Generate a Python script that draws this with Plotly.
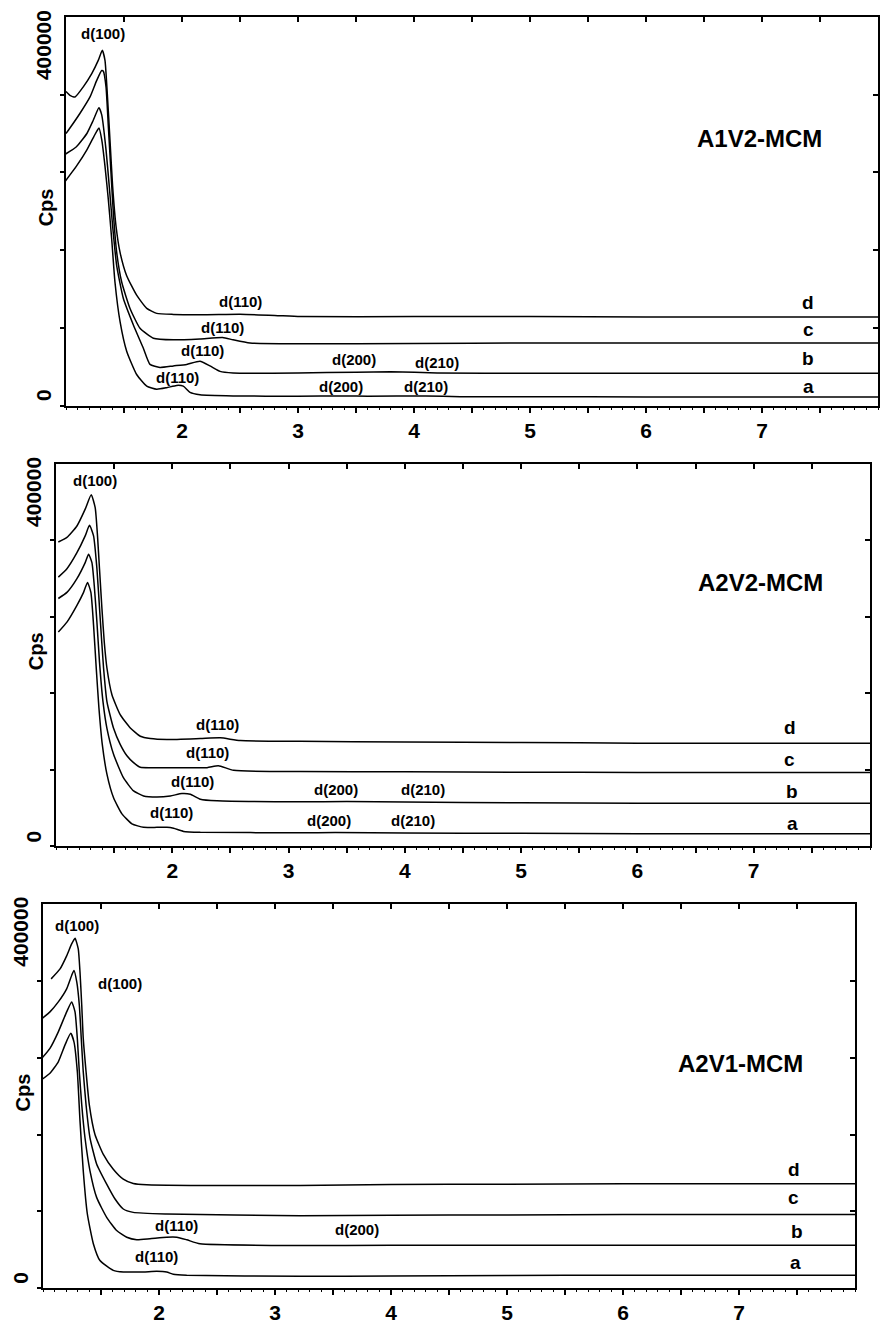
import plotly.graph_objects as go

# ---------------- A1V2-MCM : low-angle XRD traces a-d (2 theta, Cps) ----------------
a1v2_a_x = [0.99, 1.09, 1.18, 1.24, 1.284, 1.308, 1.336, 1.365, 1.394, 1.422, 1.466, 1.523, 1.609, 1.696,
            1.782, 1.868, 1.954, 2.011, 2.069, 2.155, 2.44, 3.0, 3.4, 3.6, 4.1, 4.4, 5.0, 6.0, 7.0, 8.0]
a1v2_a_y = [288000, 308000, 329000, 346000, 357000, 342000, 308000, 265000, 214000, 159000, 108000, 70000,
            40000, 25000, 21000, 23000, 26000, 25000, 17000, 14000, 12500, 12000, 12500, 12000, 12500,
            11500, 11500, 11000, 11000, 11000]
a1v2_b_x = [0.99, 1.09, 1.18, 1.235, 1.284, 1.308, 1.345, 1.373, 1.402, 1.437, 1.494, 1.58, 1.666, 1.724,
            1.81, 1.925, 2.04, 2.155, 2.241, 2.328, 2.44, 3.0, 3.5, 3.8, 4.2, 5.0, 6.0, 7.0, 8.0]
a1v2_b_y = [323000, 333000, 350000, 367000, 383000, 374000, 329000, 282000, 231000, 180000, 138000, 104000,
            74000, 53000, 49000, 51000, 53000, 57000, 51000, 44000, 42000, 42000, 43000, 43500, 42000,
            41500, 41500, 41500, 41500]
a1v2_c_x = [1.0, 1.034, 1.121, 1.207, 1.264, 1.308, 1.322, 1.345, 1.365, 1.388, 1.408, 1.437, 1.48, 1.552,
            1.638, 1.753, 1.925, 2.155, 2.35, 2.44, 2.586, 3.0, 4.0, 5.0, 6.0, 7.0, 8.0]
a1v2_c_y = [350000, 357000, 376000, 397000, 418000, 431000, 430000, 410000, 359000, 299000, 248000, 197000,
            159000, 125000, 99500, 86700, 84600, 85800, 87600, 84600, 80400, 79500, 80000, 80500, 80500,
            80500, 80500]
a1v2_d_x = [1.0, 1.034, 1.078, 1.149, 1.222, 1.278, 1.313, 1.336, 1.356, 1.379, 1.402, 1.431, 1.466, 1.523,
            1.609, 1.696, 1.782, 1.925, 2.2, 2.5, 2.8, 3.02, 4.0, 5.0, 6.0, 7.0, 8.0]
a1v2_d_y = [404000, 399000, 397000, 410000, 427000, 444000, 457000, 444000, 401000, 342000, 282000, 231000,
            197000, 167000, 142000, 125000, 118600, 117300, 117000, 117500, 116000, 114500, 114500,
            114500, 114000, 114000, 114000]

# ---------------- A2V2-MCM ----------------
a2v2_a_x = [1.02, 1.094, 1.18, 1.237, 1.271, 1.3, 1.323, 1.346, 1.369, 1.398, 1.438, 1.495, 1.567, 1.653,
            1.753, 1.868, 1.954, 2.011, 2.097, 2.241, 3.1, 3.4, 4.0, 5.0, 6.0, 7.0, 8.0]
a2v2_a_y = [280000, 293000, 315000, 332000, 345000, 332000, 289000, 233000, 181000, 133000, 94000, 63000,
            42000, 29000, 24300, 24300, 24300, 23000, 19000, 17800, 17300, 17500, 17000, 16500, 16000,
            16000, 16000]
a2v2_b_x = [1.02, 1.094, 1.18, 1.251, 1.28, 1.309, 1.329, 1.352, 1.374, 1.404, 1.438, 1.495, 1.581, 1.667,
            1.753, 1.868, 1.983, 2.083, 2.155, 2.241, 2.385, 3.1, 3.5, 4.0, 5.0, 6.0, 7.0, 8.0]
a2v2_b_y = [324000, 332000, 350000, 371000, 382000, 371000, 341000, 293000, 241000, 189000, 154000, 120000,
            89000, 72000, 65500, 64200, 65500, 68600, 67700, 61200, 59000, 57700, 58000, 57500, 56500,
            56000, 56000, 56000]
a2v2_c_x = [1.02, 1.094, 1.18, 1.251, 1.288, 1.323, 1.352, 1.38, 1.409, 1.438, 1.495, 1.552, 1.61, 1.667,
            1.725, 1.839, 2.069, 2.299, 2.396, 2.528, 3.1, 4.0, 5.0, 6.0, 7.0, 8.0]
a2v2_c_y = [352000, 363000, 384000, 406000, 420000, 406000, 363000, 298000, 233000, 189000, 154000, 133000,
            118000, 109000, 103000, 102500, 102500, 102500, 105000, 99000, 97300, 97000, 96500, 96300,
            96300, 96300]
a2v2_d_x = [1.02, 1.094, 1.18, 1.251, 1.303, 1.337, 1.357, 1.374, 1.395, 1.415, 1.438, 1.481, 1.552, 1.639,
            1.725, 1.811, 1.954, 2.241, 2.413, 2.585, 3.1, 4.0, 5.0, 6.0, 7.0, 8.0]
a2v2_d_y = [398000, 404000, 419000, 441000, 460000, 443000, 406000, 363000, 311000, 267000, 233000, 198000,
            172000, 154500, 143600, 140600, 139300, 140600, 141500, 138000, 137000, 136000, 135500,
            134500, 134500, 134500]

# ---------------- A2V1-MCM ----------------
a2v1_a_x = [0.99, 1.06, 1.132, 1.19, 1.239, 1.267, 1.296, 1.319, 1.347, 1.382, 1.434, 1.491, 1.606, 1.692,
            1.75, 1.865, 1.98, 2.066, 2.123, 2.239, 3.216, 4.0, 5.0, 6.0, 7.0, 8.0]
a2v1_a_y = [272000, 280000, 295000, 317000, 332000, 321000, 282000, 218000, 153000, 97000, 58000, 36000,
            23300, 21100, 21100, 21100, 22000, 21100, 18100, 16800, 15500, 16000, 16500, 17000, 17000, 17000]
a2v1_b_x = [0.99, 1.06, 1.132, 1.204, 1.247, 1.276, 1.296, 1.313, 1.334, 1.362, 1.405, 1.463, 1.549, 1.635,
            1.722, 1.808, 1.922, 2.066, 2.153, 2.239, 2.353, 3.216, 4.0, 5.0, 6.0, 7.0, 8.0]
a2v1_b_y = [299500, 312500, 334000, 360000, 373000, 360000, 325000, 282000, 239000, 196000, 153000, 118000,
            92300, 75100, 66400, 63100, 64400, 66400, 66400, 63100, 57900, 55700, 56000, 56000, 56100,
            56100, 56100]
a2v1_c_x = [0.99, 1.06, 1.132, 1.204, 1.247, 1.267, 1.291, 1.313, 1.33, 1.347, 1.371, 1.405, 1.463, 1.549,
            1.621, 1.692, 1.778, 2.066, 3.216, 4.0, 5.0, 6.0, 7.0, 8.0]
a2v1_c_y = [351000, 360000, 373000, 390000, 407500, 414000, 399000, 369000, 325000, 282000, 239000, 196000,
            161600, 135600, 116200, 103200, 98800, 96700, 94500, 95000, 95500, 96000, 96000, 96000]
a2v1_d_x = [1.07, 1.147, 1.204, 1.247, 1.276, 1.304, 1.319, 1.334, 1.347, 1.371, 1.399, 1.448, 1.52, 1.606,
            1.692, 1.778, 1.894, 3.216, 4.0, 5.0, 6.0, 7.0, 8.0]
a2v1_d_y = [403000, 416000, 433000, 448500, 455800, 442000, 411800, 368700, 325500, 282300, 239200, 200300,
            174400, 155000, 142100, 136400, 134700, 133800, 135000, 135500, 136000, 136000, 136000]

# Reflection labels: (text, 2theta, Cps)
a1v2_peaks = [("d(100)", 1.319, 478000), ("d(110)", 2.50, 133500), ("d(110)", 2.349, 100400),
              ("d(110)", 2.177, 70500), ("d(110)", 1.961, 35700), ("d(200)", 3.483, 59000),
              ("d(210)", 4.198, 54800), ("d(200)", 3.369, 25100), ("d(210)", 4.102, 25100)]
a2v2_peaks = [("d(100)", 1.337, 478000), ("d(110)", 2.392, 158800), ("d(110)", 2.299, 121700),
              ("d(110)", 2.17, 84800), ("d(110)", 1.997, 43800), ("d(200)", 3.41, 74000),
              ("d(210)", 4.156, 74000), ("d(200)", 3.345, 32900), ("d(210)", 4.07, 32900)]
a2v1_peaks = [("d(100)", 1.291, 472500), ("d(100)", 1.664, 397000), ("d(110)", 2.153, 81400),
              ("d(110)", 1.98, 41000), ("d(200)", 3.711, 77100)]

# Curve tags at the right-hand end: (text, 2theta, Cps)
a1v2_tags = [("d", 7.40, 132000), ("c", 7.40, 98500), ("b", 7.40, 60000), ("a", 7.40, 25000)]
a2v2_tags = [("d", 7.31, 155000), ("c", 7.31, 113500), ("b", 7.33, 71000), ("a", 7.33, 29000)]
a2v1_tags = [("d", 7.47, 155000), ("c", 7.47, 118500), ("b", 7.50, 74000), ("a", 7.49, 33600)]

sample_names = ["A1V2-MCM", "A2V2-MCM", "A2V1-MCM"]
title_pos = [(6.98, 343500), (7.06, 344500), (7.01, 293000)]

x_labels = ["2", "3", "4", "5", "6", "7"]
x_label_vals = [2, 3, 4, 5, 6, 7]
y_tick_vals = [0, 100000, 200000, 300000, 400000]
y_labels = [("0", 0), ("400000", 400000)]

W, H = 880, 1324
FONT = "Liberation Sans, Arial, sans-serif"

# Frame of each panel in page pixels: (left, right), (top, bottom)
frames = [((66, 878), (17, 409)), ((56, 870), (468, 853)), ((43, 855), (912, 1299))]

curves = [
    [(a1v2_a_x, a1v2_a_y), (a1v2_b_x, a1v2_b_y), (a1v2_c_x, a1v2_c_y), (a1v2_d_x, a1v2_d_y)],
    [(a2v2_a_x, a2v2_a_y), (a2v2_b_x, a2v2_b_y), (a2v2_c_x, a2v2_c_y), (a2v2_d_x, a2v2_d_y)],
    [(a2v1_a_x, a2v1_a_y), (a2v1_b_x, a2v1_b_y), (a2v1_c_x, a2v1_c_y), (a2v1_d_x, a2v1_d_y)],
]
peaks = [a1v2_peaks, a2v2_peaks, a2v1_peaks]
tags = [a1v2_tags, a2v2_tags, a2v1_tags]

half_steps = [1.5 + 0.5 * k for k in range(13)]          # 1.5 ... 7.5
half_text = [f"<b>{x_labels[x_label_vals.index(v)]}</b>" if v in x_label_vals else ""
             for v in half_steps]

fig = go.Figure()
layout = dict(width=W, height=H, margin=dict(l=0, r=0, t=0, b=0),
              paper_bgcolor="white", plot_bgcolor="white", showlegend=False)
annotations = []

for i in range(3):
    n = i + 1
    xr = "x" if n == 1 else f"x{n}"
    yr = "y" if n == 1 else f"y{n}"
    xo, yo = f"x{n + 3}", f"y{n + 3}"
    (px0, px1), (py0, py1) = frames[i]
    xdom = [px0 / W, px1 / W]
    ydom = [1 - py1 / H, 1 - py0 / H]

    for cx, cy in curves[i]:
        fig.add_trace(go.Scatter(x=cx, y=cy, mode="lines", xaxis=xr, yaxis=yr,
                                 line=dict(color="black", width=1.5, shape="spline", smoothing=0.5),
                                 hoverinfo="skip"))
    # empty traces that bring up the top and right tick axes
    fig.add_trace(go.Scatter(x=[None], y=[None], xaxis=xo, yaxis=yr, hoverinfo="skip"))
    fig.add_trace(go.Scatter(x=[None], y=[None], xaxis=xr, yaxis=yo, hoverinfo="skip"))

    kx = "xaxis" if n == 1 else f"xaxis{n}"
    ky = "yaxis" if n == 1 else f"yaxis{n}"
    layout[kx] = dict(domain=xdom, anchor=yr, range=[1, 8], tickmode="array",
                      tickvals=half_steps, ticktext=half_text, ticks="outside", ticklen=5,
                      tickwidth=1.5, tickcolor="black", showline=True, linewidth=2,
                      linecolor="black", mirror=True, showgrid=False, zeroline=False,
                      tickfont=dict(family=FONT, size=21, color="black"),
                      minor=dict(tickmode="linear", tick0=0, dtick=0.1, ticks="outside",
                                 ticklen=2, tickwidth=1, tickcolor="black", showgrid=False))
    layout[ky] = dict(domain=ydom, anchor=xr, range=[0, 500000], tickmode="array",
                      tickvals=y_tick_vals, showticklabels=False, ticks="outside", ticklen=4,
                      tickwidth=1.5, tickcolor="black", showline=True, linewidth=2,
                      linecolor="black", mirror=True, showgrid=False, zeroline=False)
    layout[f"xaxis{n + 3}"] = dict(overlaying=xr, anchor=yr, side="top", range=[1, 8],
                                   tickmode="array", tickvals=half_steps, showticklabels=False,
                                   ticks="inside", ticklen=5, tickwidth=1.5, tickcolor="black",
                                   showline=False, showgrid=False, zeroline=False)
    layout[f"yaxis{n + 3}"] = dict(overlaying=yr, anchor=xr, side="right", range=[0, 500000],
                                   tickmode="array", tickvals=y_tick_vals, showticklabels=False,
                                   ticks="inside", ticklen=5, tickwidth=1.5, tickcolor="black",
                                   showline=False, showgrid=False, zeroline=False)

    # rotated y tick labels, starting at their tick
    for txt, val in y_labels:
        annotations.append(dict(text=f"<b>{txt}</b>", xref=f"{xr} domain", yref=yr, x=0, y=val,
                                xanchor="right", yanchor="bottom", textangle=-90, showarrow=False,
                                xshift=-9, yshift=12 if val else 2,
                                font=dict(family=FONT, size=21, color="black")))
    # axis title
    annotations.append(dict(text="<b>Cps</b>", xref=f"{xr} domain", yref=yr, x=0, y=255000,
                            xanchor="center", yanchor="middle", textangle=-90, showarrow=False,
                            xshift=-20, font=dict(family=FONT, size=20, color="black")))
    # sample name
    tx, ty = title_pos[i]
    annotations.append(dict(text=f"<b>{sample_names[i]}</b>", xref=xr, yref=yr, x=tx, y=ty,
                            showarrow=False, font=dict(family=FONT, size=24, color="black")))
    for txt, xv, yv in peaks[i]:
        annotations.append(dict(text=f"<b>{txt}</b>", xref=xr, yref=yr, x=xv, y=yv,
                                showarrow=False, font=dict(family=FONT, size=15, color="black")))
    for txt, xv, yv in tags[i]:
        annotations.append(dict(text=f"<b>{txt}</b>", xref=xr, yref=yr, x=xv, y=yv,
                                showarrow=False, font=dict(family=FONT, size=19, color="black")))

layout["annotations"] = annotations
fig.update_layout(**layout)
fig.write_html("out.html")
